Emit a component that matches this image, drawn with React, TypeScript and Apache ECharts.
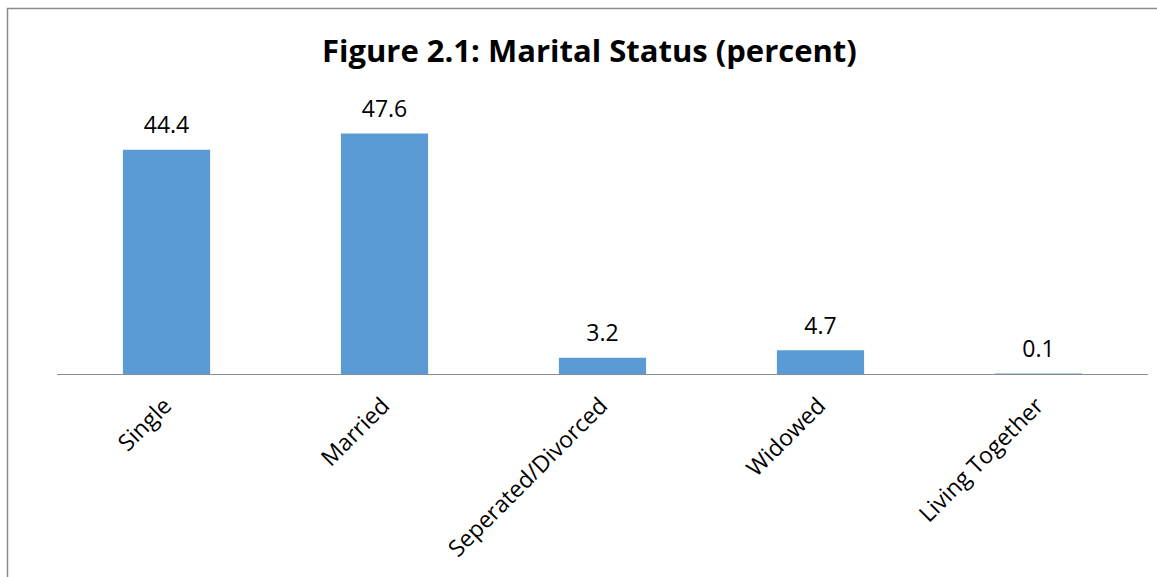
import React, { useEffect, useRef } from "react";
import * as echarts from "echarts";

const categories = ["Single", "Married", "Seperated/Divorced", "Widowed", "Living Together"];
const values = [44.4, 47.6, 3.2, 4.7, 0.1];
const titleText = "Figure 2.1: Marital Status (percent)";

export default function App() {
  const ref = useRef<HTMLDivElement>(null);
  useEffect(() => {
    const chart = echarts.init(ref.current!, null, { renderer: "svg" });
    chart.setOption({
      animation: false,
      backgroundColor: "#ffffff",
      title: {
        text: titleText,
        left: 317,
        top: 29,
        textStyle: {
          fontFamily: "Open Sans",
          fontWeight: "bold",
          fontSize: 31,
          color: "#000000",
        },
      },
      graphic: [
        {
          type: "rect",
          shape: { x: 7.5, y: 8.5, width: 1200, height: 700 },
          style: { fill: "none", stroke: "#8c8c8c", lineWidth: 1.5 },
          silent: true,
        },
      ],
      grid: { left: 57.5, right: 9.5, top: 121.5, bottom: 203 },
      xAxis: {
        type: "category",
        data: categories,
        axisLine: { show: true, lineStyle: { color: "#8c8c8c", width: 1 } },
        axisTick: { show: false },
        axisLabel: {
          rotate: 45,
          margin: 27,
          interval: 0,
          fontFamily: "Open Sans",
          fontSize: 23,
          color: "#000000",
        },
      },
      yAxis: {
        type: "value",
        min: 0,
        max: 50,
        show: false,
        splitLine: { show: false },
      },
      series: [
        {
          type: "bar",
          data: values,
          barWidth: "40%",
          itemStyle: { color: "#5b9bd5" },
          label: {
            show: true,
            position: "top",
            distance: 14,
            fontFamily: "Open Sans",
            fontSize: 23,
            color: "#000000",
          },
        },
      ],
    });
    return () => chart.dispose();
  }, []);
  return (
    <div
      ref={ref}
      style={{ position: "fixed", left: 0, top: 0, width: 1157, height: 577 }}
    />
  );
}
